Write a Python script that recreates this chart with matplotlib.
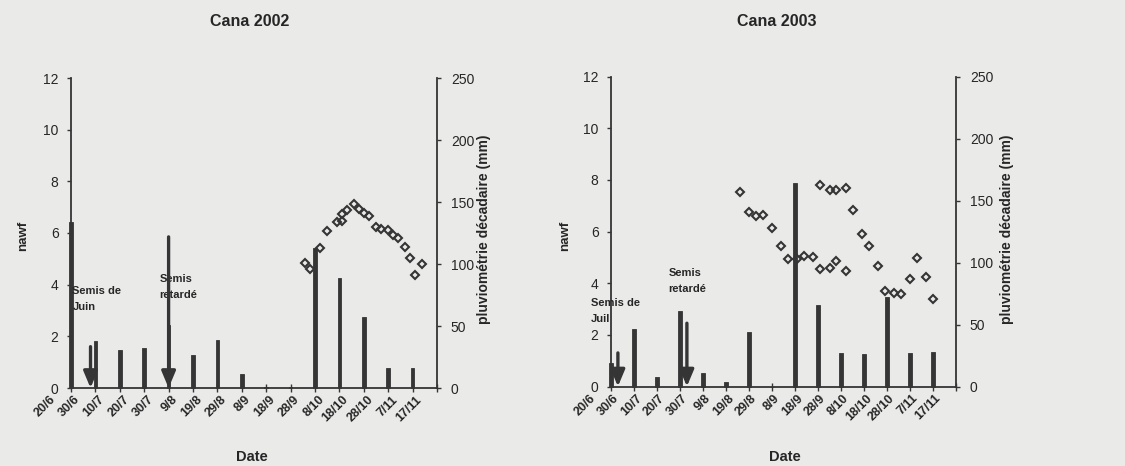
import matplotlib.pyplot as plt
from matplotlib.dates import date2num
from matplotlib.transforms import ScaledTranslation
from datetime import datetime

plt.rcParams['font.family'] = ['Liberation Sans', 'DejaVu Sans']

# décades : un repère tous les 10 jours à partir du 20 juin
tick_labels = ['20/6', '30/6', '10/7', '20/7', '30/7', '9/8', '19/8', '29/8',
               '8/9', '18/9', '28/9', '8/10', '18/10', '28/10', '7/11', '17/11']

# pluviométrie décadaire (mm)
rain_2002 = [134, 38, 31, 32, 51, 27, 39, 11, 1, 1, 113, 89, 57, 16, 16, 0]
rain_2003 = [19, 46, 8, 61, 11, 4, 44, 0, 164, 66, 27, 26, 72, 27, 28, 0]

# nawf mesuré
nawf_dates_2002 = ['24/9', '26/9', '30/9', '3/10', '7/10', '9/10', '9/10', '11/10',
                   '14/10', '16/10', '18/10', '20/10', '23/10', '25/10', '28/10',
                   '30/10', '1/11', '4/11', '6/11', '8/11', '11/11']
nawf_2002 = [4.84, 4.60, 5.41, 6.06, 6.42, 6.47, 6.74, 6.90, 7.13, 6.92, 6.77,
             6.64, 6.23, 6.16, 6.12, 5.93, 5.80, 5.45, 5.03, 4.36, 4.81]

nawf_dates_2003 = ['15/8', '19/8', '22/8', '25/8', '29/8', '2/9', '5/9', '9/9',
                   '12/9', '16/9', '19/9', '23/9', '26/9', '30/9', '19/9', '23/9',
                   '26/9', '30/9', '3/10', '7/10', '10/10', '14/10', '17/10',
                   '21/10', '24/10', '28/10', '31/10', '4/11', '7/11']
nawf_2003 = [7.54, 6.77, 6.61, 6.64, 6.15, 5.45, 4.94, 4.94, 5.06, 5.01, 7.80,
             7.61, 7.61, 7.68, 4.54, 4.60, 4.84, 4.49, 6.84, 5.91, 5.45, 4.68,
             3.68, 3.61, 3.57, 4.15, 4.99, 4.23, 3.39]

# dates de semis (flèches)
sow_dates_2002 = ['28/6', '30/7']
sow_tops_2002 = [1.6, 5.85]
sow_labels_2002 = ['Semis de\nJuin', 'Semis\nretardé']

sow_dates_2003 = ['23/6', '23/7']
sow_tops_2003 = [1.3, 2.45]
sow_labels_2003 = ['Semis de\nJuil', 'Semis\nretardé']

dark = '#353535'
txt = '#262626'
bg = '#eaebe9'


def to_num(s, year):
    d, m = s.split('/')
    return date2num(datetime(year, int(m), int(d)))


fig = plt.figure(figsize=(11.25, 4.66), dpi=100, facecolor=bg)


def panel(rect, year, rain, nawf_dates, nawf, sow_dates, sow_tops, sow_labels,
          label_pos):
    ax = fig.add_axes(rect)
    ax2 = ax.twinx()
    ax.set_zorder(ax2.get_zorder() + 1)
    ax.patch.set_visible(False)
    ax2.patch.set_visible(False)

    start = date2num(datetime(year, 6, 20))
    ticks = [start + 10 * i for i in range(len(tick_labels))]

    ax2.bar(ticks, rain, width=1.4, color=dark, edgecolor=dark, linewidth=0.6,
            clip_on=False, zorder=2)
    ax2.set_ylim(0, 250)
    ax2.set_yticks(range(0, 251, 50))

    xs = [to_num(d, year) for d in nawf_dates]
    ax.plot(xs, nawf, ls='none', marker='D', ms=4.3, mfc='none', mec=dark,
            mew=1.5, zorder=5)

    for d, top, lab, (lx, ly) in zip(sow_dates, sow_tops, sow_labels, label_pos):
        x = to_num(d, year)
        ax.annotate('', xy=(x, 0), xytext=(x, top),
                    arrowprops=dict(arrowstyle='-|>,head_length=1.0,head_width=0.42',
                                    lw=2.4, color=dark, shrinkA=0, shrinkB=0,
                                    mutation_scale=10),
                    zorder=4)
        ax.text(start + lx, ly, lab, fontsize=8, fontweight='bold', color=txt,
                ha='left', va='center', linespacing=1.75, zorder=3)

    ax.set_xlim(ticks[0], ticks[-1])
    ax.set_ylim(0, 12)
    ax.set_yticks(range(0, 13, 2))
    ax.set_xticks(ticks)
    ax.set_xticklabels([])

    for t, lab in zip(ticks, tick_labels):
        off = ScaledTranslation(-0.17, -0.1, fig.dpi_scale_trans)
        ax.text(t, 0, lab, transform=ax.get_xaxis_transform() + off,
                rotation=45, rotation_mode='anchor', ha='right', va='center',
                fontsize=9, fontweight='bold', color=txt)

    for a in (ax, ax2):
        for s in a.spines.values():
            s.set_color(dark)
            s.set_linewidth(1.3)
        a.spines['top'].set_visible(False)
    ax.spines['right'].set_visible(False)
    ax2.spines['left'].set_visible(False)
    ax2.spines['bottom'].set_visible(False)

    ax.tick_params(axis='y', direction='out', length=3, width=1, colors=dark,
                   labelcolor=txt, labelsize=10, pad=6)
    ax.tick_params(axis='x', direction='inout', length=6, width=1, colors=dark)
    ax2.tick_params(axis='y', direction='out', length=3, width=1, colors=dark,
                    labelcolor=txt, labelsize=10, pad=7)
    return ax


panel([71 / 1125, 78 / 466, 366 / 1125, 310 / 466], 2002, rain_2002,
      nawf_dates_2002, nawf_2002, sow_dates_2002, sow_tops_2002, sow_labels_2002,
      [(0.6, 3.45), (36.2, 3.9)])
panel([611 / 1125, 79.5 / 466, 345 / 1125, 310 / 466], 2003, rain_2003,
      nawf_dates_2003, nawf_2003, sow_dates_2003, sow_tops_2003, sow_labels_2003,
      [(-8.6, 2.93), (25, 4.1)])

# titres et libellés d'axes
for x, t in [(250, 'Cana 2002'), (777, 'Cana 2003')]:
    fig.text(x / 1125, 1 - 22 / 466, t, ha='center', va='center',
             fontsize=11.5, fontweight='bold', color=txt)
for x in (252, 785):
    fig.text(x / 1125, 1 - 457 / 466, 'Date', ha='center', va='center',
             fontsize=10.5, fontweight='bold', color=txt)
for x in (23, 565):
    fig.text(x / 1125, 1 - 236 / 466, 'nawf', ha='center', va='center',
             rotation=90, fontsize=9.5, fontweight='bold', color=txt)
for x in (484, 1007):
    fig.text(x / 1125, 1 - 229 / 466, 'pluviométrie décadaire (mm)',
             ha='center', va='center', rotation=90, fontsize=10,
             fontweight='bold', color=txt)

fig.savefig('out.png', dpi=100, facecolor=bg)
